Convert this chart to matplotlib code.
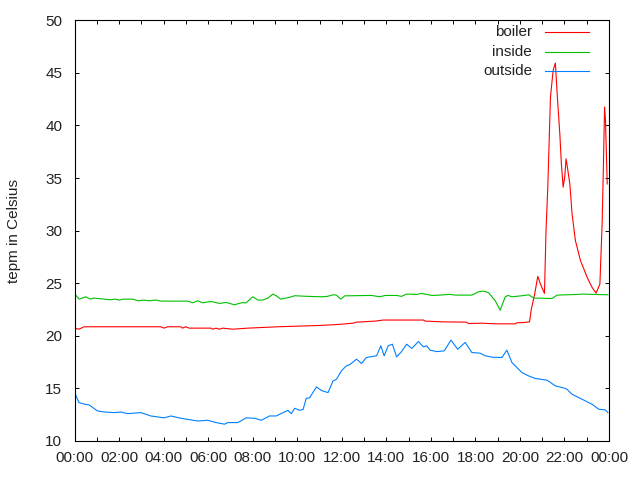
import matplotlib
matplotlib.use('Agg')
import matplotlib.pyplot as plt

RED = '#ff0000'
GREEN = '#00c000'
BLUE = '#0080ff'

# hours since midnight / temperature
boiler_h = [0.0, 0.19, 0.42, 3.87, 4.02, 4.17, 4.77, 4.84, 4.99, 5.14, 6.13, 6.2,
            6.35, 6.5, 6.65, 7.1, 7.78, 9.13, 10.93, 11.6, 12.0, 12.5, 12.66, 13.5,
            13.86, 15.66, 15.74, 16.5, 17.6, 17.69, 18.3, 18.9, 19.8, 19.86, 20.2,
            20.43, 20.51, 20.66, 20.8, 20.92, 21.1, 21.17, 21.25, 21.37, 21.49,
            21.59, 21.68, 21.79, 21.86, 21.94, 22.01, 22.07, 22.12, 22.24, 22.34,
            22.49, 22.72, 23.02, 23.24, 23.42, 23.59, 23.69, 23.74, 23.8, 23.84, 23.92]
boiler_t = [20.73, 20.63, 20.86, 20.86, 20.73, 20.86, 20.86, 20.73, 20.86, 20.73,
            20.73, 20.63, 20.73, 20.63, 20.73, 20.63, 20.73, 20.86, 20.98, 21.05,
            21.11, 21.2, 21.3, 21.4, 21.5, 21.5, 21.4, 21.33, 21.3, 21.17, 21.2,
            21.14, 21.14, 21.24, 21.27, 21.33, 22.54, 23.97, 25.65, 24.92, 24.03,
            30.0, 34.13, 42.7, 45.24, 45.94, 42.7, 39.2, 36.35, 34.13, 35.08, 36.83,
            36.19, 34.44, 31.59, 29.05, 27.14, 25.55, 24.6, 24.06, 24.92, 30.63,
            35.4, 41.75, 40.48, 34.44]

inside_h = [0.0, 0.2, 0.5, 0.7, 0.85, 1.6, 1.82, 2.0, 2.2, 2.6, 2.85, 3.1, 3.35,
            3.65, 3.87, 5.07, 5.3, 5.53, 5.75, 6.13, 6.5, 6.8, 7.18, 7.48, 7.7, 8.0,
            8.23, 8.45, 8.68, 8.9, 9.05, 9.25, 9.5, 9.73, 9.88, 10.5, 11.08, 11.35,
            11.6, 11.75, 11.95, 12.13, 13.33, 13.7, 13.95, 14.45, 14.68, 14.91,
            15.36, 15.59, 16.04, 16.4, 16.84, 17.1, 17.84, 18.14, 18.36, 18.59,
            18.89, 19.11, 19.34, 19.46, 19.64, 20.09, 20.39, 20.62, 21.44, 21.67,
            22.64, 22.79, 23.95]
inside_t = [23.97, 23.49, 23.71, 23.49, 23.59, 23.43, 23.49, 23.4, 23.49, 23.49,
            23.33, 23.4, 23.33, 23.4, 23.3, 23.3, 23.14, 23.33, 23.14, 23.27, 23.08,
            23.17, 22.95, 23.14, 23.14, 23.71, 23.4, 23.4, 23.59, 23.97, 23.81,
            23.49, 23.59, 23.71, 23.81, 23.75, 23.71, 23.75, 23.9, 23.87, 23.49,
            23.8, 23.84, 23.71, 23.84, 23.84, 23.75, 23.97, 23.94, 24.03, 23.84,
            23.87, 23.94, 23.87, 23.87, 24.19, 24.25, 24.1, 23.33, 22.44, 23.71,
            23.84, 23.71, 23.81, 23.9, 23.59, 23.55, 23.87, 23.94, 23.97, 23.9]

outside_h = [0.0, 0.19, 0.45, 0.65, 0.8, 1.02, 1.32, 1.77, 2.1, 2.37, 2.97, 3.42,
             4.02, 4.32, 4.77, 5.53, 5.98, 6.35, 6.73, 6.88, 7.33, 7.7, 8.08, 8.38,
             8.75, 9.05, 9.58, 9.73, 9.88, 10.1, 10.26, 10.4, 10.55, 10.86, 11.08,
             11.38, 11.6, 11.76, 11.98, 12.2, 12.36, 12.66, 12.88, 13.1, 13.56,
             13.75, 13.9, 14.08, 14.27, 14.46, 14.68, 14.91, 15.14, 15.44, 15.66,
             15.81, 15.96, 16.26, 16.6, 16.9, 17.2, 17.54, 17.84, 18.21, 18.44,
             18.74, 19.19, 19.41, 19.64, 20.09, 20.39, 20.69, 21.22, 21.59, 22.04,
             22.12, 22.34, 22.79, 23.24, 23.54, 23.84, 23.95]
outside_t = [14.6, 13.65, 13.5, 13.43, 13.2, 12.86, 12.76, 12.7, 12.75, 12.6, 12.7,
             12.38, 12.2, 12.38, 12.16, 11.9, 11.97, 11.75, 11.6, 11.75, 11.75,
             12.2, 12.16, 11.97, 12.38, 12.38, 12.92, 12.6, 13.11, 12.92, 13.0,
             14.06, 14.1, 15.14, 14.8, 14.6, 15.7, 15.87, 16.67, 17.14, 17.27,
             17.78, 17.37, 17.94, 18.1, 19.05, 18.1, 19.05, 19.2, 18.0, 18.5, 19.2,
             18.8, 19.46, 18.95, 19.05, 18.64, 18.5, 18.57, 19.59, 18.73, 19.37,
             18.41, 18.35, 18.1, 17.97, 17.94, 18.64, 17.46, 16.5, 16.19, 15.94,
             15.78, 15.24, 15.0, 14.9, 14.44, 13.97, 13.49, 13.02, 12.95, 12.7]

series_names = ['boiler', 'inside', 'outside']
x_ticks = list(range(0, 25, 2))
x_ticklabels = ['%02d:00' % (h % 24) for h in x_ticks]
y_ticks = list(range(10, 51, 5))

plt.rcParams['font.family'] = ['Liberation Sans', 'DejaVu Sans']
plt.rcParams['font.size'] = 11

fig = plt.figure(figsize=(6.4, 4.8), dpi=100)
ax = fig.add_axes([0.1167, 0.08125, 0.8349, 0.8765])

lines = []
for h, t, c in [(boiler_h, boiler_t, RED), (inside_h, inside_t, GREEN),
                (outside_h, outside_t, BLUE)]:
    ln, = ax.plot(h, t, color=c, linewidth=0.8)
    lines.append(ln)

ax.set_xlim(0, 24)
ax.set_ylim(10, 50)
ax.set_xticks(x_ticks)
ax.set_xticklabels(x_ticklabels)
ax.set_xticks(range(1, 24, 2), minor=True)
ax.set_yticks(y_ticks)

ax.tick_params(which='both', direction='in', top=True, right=True,
               length=3, width=0.7, color='black', labelcolor='#222222')
ax.tick_params(axis='x', pad=7)
ax.tick_params(axis='y', pad=9)
for spine in ax.spines.values():
    spine.set_linewidth(0.8)

ax.text(-0.1136, 0.5, 'tepm in Celsius', rotation=90, ha='center', va='center',
        transform=ax.transAxes, color='#222222')

# gnuplot style key: right-aligned text, sample line to the right
key_y = [0.971, 0.924, 0.880]
for name, ln, ky in zip(series_names, lines, key_y):
    ax.text(0.856, ky, name, ha='right', va='center', transform=ax.transAxes,
            color='#222222')
    ax.plot([0.880, 0.963], [ky, ky], color=ln.get_color(), linewidth=0.8,
            transform=ax.transAxes)

plt.savefig('out.png', dpi=100)
